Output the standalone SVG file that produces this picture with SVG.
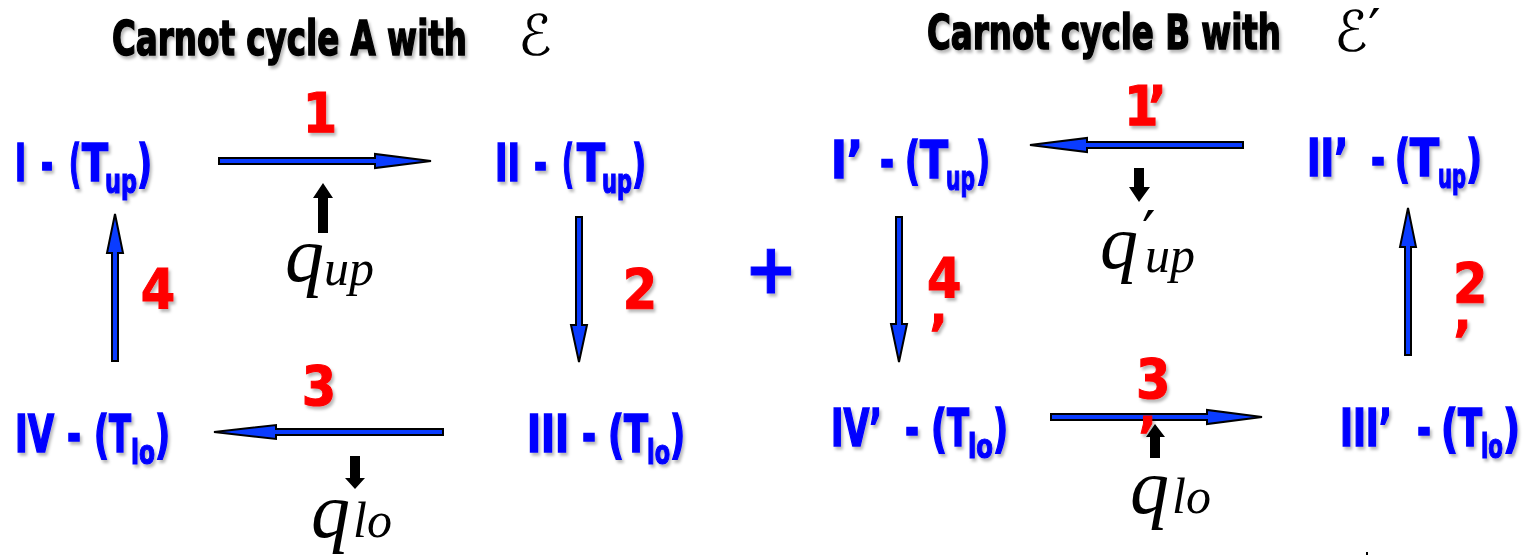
<svg xmlns="http://www.w3.org/2000/svg" width="1525" height="555" viewBox="0 0 1525 555">
<defs>
<filter id="sh" x="-20%" y="-20%" width="140%" height="160%">
<feDropShadow dx="2" dy="3" stdDeviation="1.6" flood-color="#000" flood-opacity="0.28"/>
</filter>
</defs>
<style>
.cf{font-family:"Liberation Sans Narrow","DejaVu Sans Condensed","Liberation Sans",sans-serif;font-weight:bold;}
.title{font-size:48px;fill:#000;stroke:#000;stroke-width:1.5;}
.node{font-size:52px;fill:#0000ff;stroke:#0000ff;stroke-width:1.6;}
.sub{font-size:34px;stroke-width:1.2;}
.num{font-size:55px;fill:#ff0000;stroke:#ff0000;stroke-width:1;}
.math{font-family:"Liberation Serif","DejaVu Serif",serif;font-style:italic;fill:#000;}
.cal{font-family:"DejaVu Serif","DejaVu Sans",serif;font-style:italic;fill:#000;font-size:56px;}
.prm{font-family:"DejaVu Serif","DejaVu Sans",serif;font-style:normal;fill:#000;}
.arr{fill:#0a3cff;stroke:#000;stroke-width:2;stroke-linejoin:miter;}
.blk{fill:#000;}
</style>

<!-- titles -->
<g id="titleA">
<text class="cf title" x="112" y="55" textLength="355" lengthAdjust="spacingAndGlyphs" filter="url(#sh)">Carnot cycle A with</text>
<text class="cal" x="518" y="55">ℰ</text>
</g>
<g id="titleB">
<text class="cf title" x="927" y="49" textLength="354" lengthAdjust="spacingAndGlyphs" filter="url(#sh)">Carnot cycle B with</text>
<text class="cal" x="1334" y="51">ℰ<tspan class="prm" font-size="56" x="1368" y="49">′</tspan></text>
</g>

<!-- nodes cycle A -->
<g id="nodeI" filter="url(#sh)">
<text class="cf node" y="181"><tspan x="15" textLength="11" lengthAdjust="spacingAndGlyphs">I</tspan><tspan x="41" textLength="12" lengthAdjust="spacingAndGlyphs">-</tspan><tspan x="69" textLength="12" lengthAdjust="spacingAndGlyphs">(</tspan><tspan x="82" textLength="26" lengthAdjust="spacingAndGlyphs">T</tspan><tspan class="sub" x="105" y="193" textLength="32" lengthAdjust="spacingAndGlyphs">up</tspan><tspan x="137" y="181" textLength="15" lengthAdjust="spacingAndGlyphs">)</tspan></text>
</g>
<g id="nodeII" filter="url(#sh)">
<text class="cf node" y="181"><tspan x="495" textLength="25" lengthAdjust="spacingAndGlyphs">II</tspan><tspan x="534" textLength="13" lengthAdjust="spacingAndGlyphs">-</tspan><tspan x="562" textLength="12" lengthAdjust="spacingAndGlyphs">(</tspan><tspan x="577" textLength="28" lengthAdjust="spacingAndGlyphs">T</tspan><tspan class="sub" x="602" y="193" textLength="30" lengthAdjust="spacingAndGlyphs">up</tspan><tspan x="632" y="181" textLength="14" lengthAdjust="spacingAndGlyphs">)</tspan></text>
</g>
<g id="nodeIII" filter="url(#sh)">
<text class="cf node" y="452"><tspan x="527" textLength="42" lengthAdjust="spacingAndGlyphs">III</tspan><tspan x="582" textLength="14" lengthAdjust="spacingAndGlyphs">-</tspan><tspan x="608" textLength="16" lengthAdjust="spacingAndGlyphs">(</tspan><tspan x="624" textLength="24" lengthAdjust="spacingAndGlyphs">T</tspan><tspan class="sub" x="647" y="464" textLength="23" lengthAdjust="spacingAndGlyphs">lo</tspan><tspan x="670" y="452" textLength="15" lengthAdjust="spacingAndGlyphs">)</tspan></text>
</g>
<g id="nodeIV" filter="url(#sh)">
<text class="cf node" y="452"><tspan x="15" textLength="39" lengthAdjust="spacingAndGlyphs">IV</tspan><tspan x="67" textLength="14" lengthAdjust="spacingAndGlyphs">-</tspan><tspan x="94" textLength="15" lengthAdjust="spacingAndGlyphs">(</tspan><tspan x="109" textLength="22" lengthAdjust="spacingAndGlyphs">T</tspan><tspan class="sub" x="131" y="464" textLength="24" lengthAdjust="spacingAndGlyphs">lo</tspan><tspan x="155" y="452" textLength="15" lengthAdjust="spacingAndGlyphs">)</tspan></text>
</g>

<!-- nodes cycle B -->
<g id="nodeI_p" filter="url(#sh)">
<text class="cf node" y="178"><tspan x="831" textLength="32" lengthAdjust="spacingAndGlyphs">I’</tspan><tspan x="880" textLength="14" lengthAdjust="spacingAndGlyphs">-</tspan><tspan x="905" textLength="15" lengthAdjust="spacingAndGlyphs">(</tspan><tspan x="920" textLength="28" lengthAdjust="spacingAndGlyphs">T</tspan><tspan class="sub" x="946" y="190" textLength="29" lengthAdjust="spacingAndGlyphs">up</tspan><tspan x="976" y="178" textLength="14" lengthAdjust="spacingAndGlyphs">)</tspan></text>
</g>
<g id="nodeII_p" filter="url(#sh)">
<text class="cf node" y="176"><tspan x="1307" textLength="41" lengthAdjust="spacingAndGlyphs">II’</tspan><tspan x="1371" textLength="14" lengthAdjust="spacingAndGlyphs">-</tspan><tspan x="1395" textLength="15" lengthAdjust="spacingAndGlyphs">(</tspan><tspan x="1410" textLength="29" lengthAdjust="spacingAndGlyphs">T</tspan><tspan class="sub" x="1438" y="188" textLength="28" lengthAdjust="spacingAndGlyphs">up</tspan><tspan x="1466" y="176" textLength="16" lengthAdjust="spacingAndGlyphs">)</tspan></text>
</g>
<g id="nodeIII_p" filter="url(#sh)">
<text class="cf node" y="446"><tspan x="1340" textLength="52" lengthAdjust="spacingAndGlyphs">III’</tspan><tspan x="1417" textLength="14" lengthAdjust="spacingAndGlyphs">-</tspan><tspan x="1441" textLength="17" lengthAdjust="spacingAndGlyphs">(</tspan><tspan x="1458" textLength="24" lengthAdjust="spacingAndGlyphs">T</tspan><tspan class="sub" x="1481" y="458" textLength="22" lengthAdjust="spacingAndGlyphs">lo</tspan><tspan x="1503" y="446" textLength="17" lengthAdjust="spacingAndGlyphs">)</tspan></text>
</g>
<g id="nodeIV_p" filter="url(#sh)">
<text class="cf node" y="446"><tspan x="831" textLength="51" lengthAdjust="spacingAndGlyphs">IV’</tspan><tspan x="905" textLength="14" lengthAdjust="spacingAndGlyphs">-</tspan><tspan x="931" textLength="16" lengthAdjust="spacingAndGlyphs">(</tspan><tspan x="947" textLength="22" lengthAdjust="spacingAndGlyphs">T</tspan><tspan class="sub" x="968" y="458" textLength="25" lengthAdjust="spacingAndGlyphs">lo</tspan><tspan x="993" y="446" textLength="15" lengthAdjust="spacingAndGlyphs">)</tspan></text>
</g>

<!-- plus -->
<g id="plus" filter="url(#sh)">
<text class="cf" x="771" y="293" text-anchor="middle" font-size="70" fill="#0000ff" stroke="#0000ff" stroke-width="1">+</text>
</g>

<!-- connectors -->
<g id="connectors">
<path class="arr" d="M219,158 L375,158 L375,154 L431,161 L375,168 L375,164 L219,164 Z"/>
<path class="arr" d="M576,217 L582,217 L582,325 L587,325 L579,362 L571,325 L576,325 Z"/>
<path class="arr" d="M443,429 L276,429 L276,425 L214,432 L276,439 L276,435 L443,435 Z"/>
<path class="arr" d="M112,361 L118,361 L118,253 L123,253 L115,214 L107,253 L112,253 Z"/>
<path class="arr" d="M1243,142 L1087,142 L1087,138 L1030,145 L1087,152 L1087,148 L1243,148 Z"/>
<path class="arr" d="M896,217 L902,217 L902,324 L907,324 L899,362 L891,324 L896,324 Z"/>
<path class="arr" d="M1051,414 L1207,414 L1207,410 L1262,417 L1207,424 L1207,420 L1051,420 Z"/>
<path class="arr" d="M1405,355 L1411,355 L1411,247 L1416,247 L1408,208 L1400,247 L1405,247 Z"/>
<path class="blk" d="M318,233 L318,198 L313,198 L323,183 L333,198 L328,198 L328,233 Z"/>
<path class="blk" d="M350,456 L360,456 L360,478 L365,478 L355,489 L345,478 L350,478 Z"/>
<path class="blk" d="M1134,168 L1144,168 L1144,187 L1150,187 L1139,202 L1129,187 L1134,187 Z"/>
<path class="blk" d="M1150,458 L1150,437 L1146,437 L1155,424 L1165,437 L1160,437 L1160,458 Z"/>
</g>

<!-- step labels -->
<g id="labels" filter="url(#sh)">
<text class="cf num" x="320" y="132" text-anchor="middle">1</text>
<text class="cf num" x="640" y="308" text-anchor="middle">2</text>
<text class="cf num" x="319" y="405" text-anchor="middle">3</text>
<text class="cf num" x="158" y="308" text-anchor="middle">4</text>
<text class="cf num" y="125"><tspan x="1124">1</tspan><tspan x="1148">’</tspan></text>
<text class="cf num" y="302"><tspan x="1453">2</tspan><tspan x="1453" y="360">’</tspan></text>
<text class="cf num" y="398"><tspan x="1136">3</tspan><tspan x="1138" y="456">’</tspan></text>
<text class="cf num" y="297"><tspan x="927">4</tspan><tspan x="929" y="354">’</tspan></text>
</g>

<!-- heat labels -->
<g id="heat">
<text class="math" font-size="78" x="285" y="281">q<tspan font-size="50" dy="4">up</tspan></text>
<text class="math" font-size="78" x="311" y="537">q<tspan font-size="50" dx="3">lo</tspan></text>
<text class="math" font-size="76" x="1100" y="268">q<tspan class="prm" font-size="60" x="1142" y="254">′</tspan><tspan font-size="50" x="1145" y="272">up</tspan></text>
<text class="math" font-size="78" x="1130" y="513">q<tspan font-size="50" dx="3">lo</tspan></text>
</g>
<rect x="1366" y="552" width="2" height="3" fill="#000"/>
</svg>
